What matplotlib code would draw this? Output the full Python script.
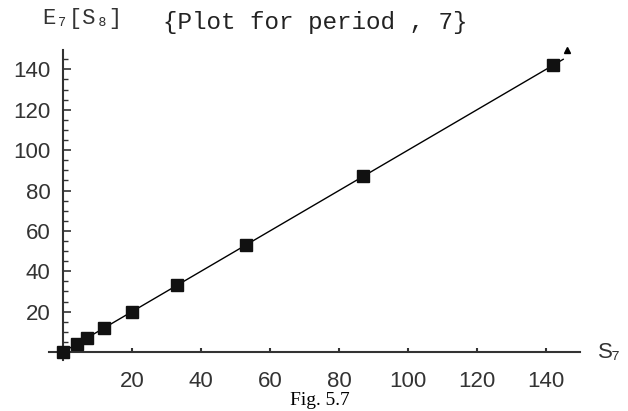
import matplotlib.pyplot as plt
from matplotlib.ticker import MultipleLocator

# partial sums plotted against the next-period estimate
s7 = [0, 4, 7, 12, 20, 33, 53, 87, 142]
e7 = [0, 4, 7, 12, 20, 33, 53, 87, 142]

# fitted line E7 = S7 and its end mark
line_x = [0, 145]
line_y = [0, 145]
end_x = [146]
end_y = [149.5]

x_ticks = [20, 40, 60, 80, 100, 120, 140]
y_ticks = [20, 40, 60, 80, 100, 120, 140]

axis_col = "#333333"
mono = ["Liberation Mono", "DejaVu Sans Mono"]
serif = ["Liberation Serif", "DejaVu Serif"]
sans = ["Liberation Sans", "DejaVu Sans"]

fig = plt.figure(figsize=(6.28, 4.11), dpi=100)
ax = fig.add_axes([0.0783, 0.1238, 0.846, 0.754])

ax.plot(line_x, line_y, color="black", lw=1.0, zorder=2)
ax.plot(s7, e7, "s", color="#111111", ms=8.8, zorder=3, clip_on=False)
ax.plot(end_x, end_y, "^", color="black", ms=4, zorder=3, clip_on=False)

ax.set_xlim(-4, 150)
ax.set_ylim(-4, 149.5)

# axes crossing at the origin
for side in ["top", "right"]:
    ax.spines[side].set_visible(False)
for side in ["left", "bottom"]:
    ax.spines[side].set_position(("data", 0))
    ax.spines[side].set_color(axis_col)
    ax.spines[side].set_linewidth(1.5)

ax.set_xticks(x_ticks)
ax.set_yticks(y_ticks)
ax.yaxis.set_minor_locator(MultipleLocator(5))
ax.tick_params(axis="x", direction="in", length=3, width=1.5, color=axis_col,
               labelsize=16, labelcolor=axis_col, pad=14)
ax.tick_params(axis="y", which="major", direction="in", length=6, width=1.2,
               color=axis_col, labelsize=16, labelcolor=axis_col, pad=9)
ax.tick_params(axis="y", which="minor", direction="in", length=3.5, width=1.0,
               color=axis_col)
for lbl in ax.get_xticklabels() + ax.get_yticklabels():
    lbl.set_family(sans)

fig.text(0.067, 0.955, "E₇[S₈]", family=mono, fontsize=16, color=axis_col,
         ha="left", va="center")
fig.text(0.502, 0.945, "{Plot for period , 7}", family=mono, fontsize=17.5,
         color="#222222", ha="center", va="center")
fig.text(0.952, 0.143, "S₇", family=sans, fontsize=16, color=axis_col,
         ha="left", va="center")
fig.text(0.51, 0.006, "Fig. 5.7", family=serif, fontsize=14, color="black",
         ha="center", va="bottom")

fig.savefig("out.png", dpi=100)
